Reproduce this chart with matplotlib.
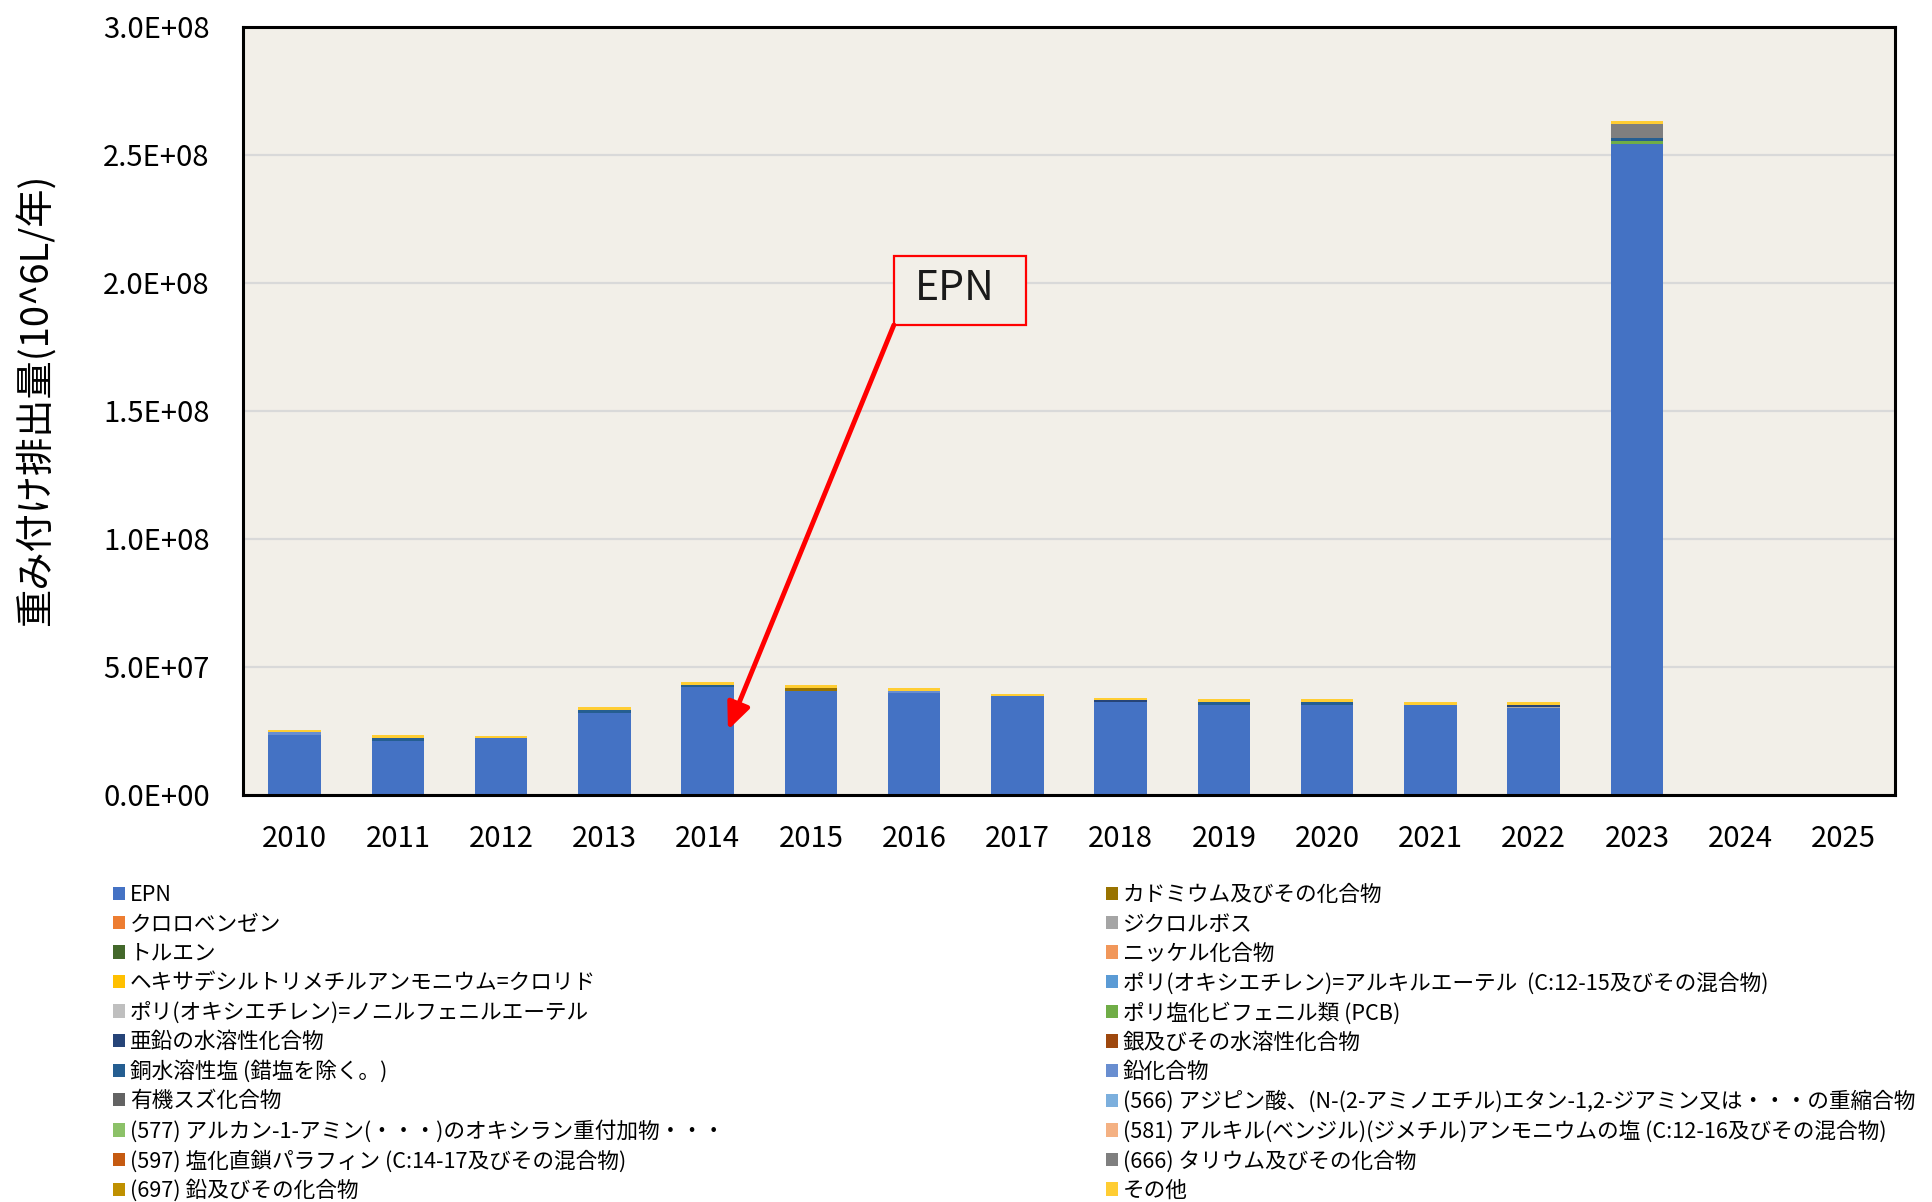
import matplotlib
matplotlib.use('Agg')
import matplotlib.pyplot as plt
import numpy as np
from matplotlib.patches import Rectangle, Patch
from matplotlib.ticker import FuncFormatter

plt.rcParams['font.family'] = ['Noto Sans CJK JP', 'DejaVu Sans']

# ---------------- data (units: 10^6, i.e. value * 1e6) ----------------
years = ['2010', '2011', '2012', '2013', '2014', '2015', '2016', '2017',
         '2018', '2019', '2020', '2021', '2022', '2023', '2024', '2025']

epn          = [23.3, 21.2, 22.1, 31.9, 42.1, 40.7, 39.7, 38.5, 36.4, 35.2, 35.2, 35.2, 34.1, 254.4, 0, 0]
cadmium      = [0, 0, 0, 0, 0, 1.05, 0, 0, 0, 0, 0, 0, 0, 0, 0, 0]
chlorobenz   = [0] * 16
dichlorvos   = [0, 0, 0, 0, 0, 0, 0, 0, 0, 0, 0, 0, 0.4, 0, 0, 0]
toluene      = [0] * 16
nickel       = [0] * 16
hexadecyl    = [0] * 16
poe_alkyl    = [0] * 16
poe_nonyl    = [0] * 16
pcb          = [0, 0, 0, 0, 0, 0, 0, 0, 0, 0, 0, 0, 0, 1.17, 0, 0]
zinc         = [0, 0, 0, 0, 0, 0, 0, 0, 0.9, 0, 0, 0, 0.8, 0, 0, 0]
silver       = [0] * 16
copper       = [0, 1.17, 0, 1.29, 1.0, 0, 0, 0, 0, 1.17, 1.17, 0, 0, 1.17, 0, 0]
lead_comp    = [1.29, 0, 0, 0, 0, 0, 1.0, 0, 0, 0, 0, 0, 0, 0, 0, 0]
organotin    = [0] * 16
s566         = [0] * 16
s577         = [0] * 16
s581         = [0] * 16
s597         = [0] * 16
s666         = [0, 0, 0, 0, 0, 0, 0, 0, 0, 0, 0, 0, 0, 5.35, 0, 0]
s697         = [0] * 16
others       = [0.78, 1.05, 0.9, 1.05, 0.94, 1.17, 1.05, 1.05, 0.78, 1.17, 1.17, 1.17, 1.05, 1.05, 0, 0]

series_names = [
    'EPN',
    'カドミウム及びその化合物',
    'クロロベンゼン',
    'ジクロルボス',
    'トルエン',
    'ニッケル化合物',
    'ヘキサデシルトリメチルアンモニウム=クロリド',
    'ポリ(オキシエチレン)=アルキルエーテル  (C:12-15及びその混合物)',
    'ポリ(オキシエチレン)=ノニルフェニルエーテル',
    'ポリ塩化ビフェニル類 (PCB)',
    '亜鉛の水溶性化合物',
    '銀及びその水溶性化合物',
    '銅水溶性塩 (錯塩を除く。)',
    '鉛化合物',
    '有機スズ化合物',
    '(566) アジピン酸、(N-(2-アミノエチル)エタン-1,2-ジアミン又は・・・の重縮合物',
    '(577) アルカン-1-アミン(・・・)のオキシラン重付加物・・・',
    '(581) アルキル(ベンジル)(ジメチル)アンモニウムの塩 (C:12-16及びその混合物)',
    '(597) 塩化直鎖パラフィン (C:14-17及びその混合物)',
    '(666) タリウム及びその化合物',
    '(697) 鉛及びその化合物',
    'その他',
]
series_values = [epn, cadmium, chlorobenz, dichlorvos, toluene, nickel, hexadecyl,
                 poe_alkyl, poe_nonyl, pcb, zinc, silver, copper, lead_comp, organotin,
                 s566, s577, s581, s597, s666, s697, others]
series_colors = ['#4472C4', '#997300', '#ED7D31', '#A5A5A5', '#43682B', '#F1975A',
                 '#FFC000', '#5B9BD5', '#BFBFBF', '#70AD47', '#264478', '#9E480E',
                 '#255E91', '#698ED0', '#636363', '#7CAFDD', '#8CC168', '#F4B183',
                 '#C55A11', '#7F7F7F', '#BF9000', '#FFCD33']

ylabel = '重み付け排出量(10^6L/年)'
bg = '#F2EFE8'

# ---------------- figure ----------------
W, H = 1932, 1202
fig = plt.figure(figsize=(W / 100, H / 100), dpi=100)
ax_l, ax_r, ax_t, ax_b = 243, 1895, 27, 795
ax = fig.add_axes([ax_l / W, 1 - ax_b / H, (ax_r - ax_l) / W, (ax_b - ax_t) / H])
ax.set_facecolor(bg)

x = np.arange(len(years))
bottom = np.zeros(len(years))
handles = []
for name, color, vals in zip(series_names, series_colors, series_values):
    v = np.array(vals, dtype=float) * 1e6
    ax.bar(x, v, 0.51, bottom=bottom, color=color, zorder=3, linewidth=0)
    bottom += v
    handles.append(Patch(facecolor=color, edgecolor='none', label=name))

ax.set_xlim(-0.5, len(years) - 0.5)
ax.set_ylim(0, 3e8)
ax.set_yticks(np.arange(0, 3.01e8, 5e7))
ax.yaxis.set_major_formatter(FuncFormatter(lambda v, p: f'{v:.1E}'))
ax.set_xticks(x)
ax.set_xticklabels(years)
ax.yaxis.grid(True, color='#D9D9D9', linewidth=1.6, zorder=0)
ax.set_axisbelow(True)
for s in ax.spines.values():
    s.set_linewidth(2.2)
    s.set_color('black')
    s.set_zorder(6)
ax.tick_params(axis='y', length=0, labelsize=21, pad=24)
ax.tick_params(axis='x', length=0, labelsize=21, pad=21)

fig.text(37 / W, 1 - 400 / H, ylabel, rotation=90, ha='center', va='center', fontsize=27.5)

# annotation box + arrow
ax.add_patch(Rectangle((0.394, 0.612), 0.080, 0.090, transform=ax.transAxes,
                       facecolor=bg, edgecolor='red', linewidth=1.6, zorder=7))
ax.text(0.431, 0.660, 'EPN', transform=ax.transAxes, ha='center', va='center',
        fontsize=29.5, color='#1a1a1a', zorder=8)
ax.annotate('', xy=(4.197, 2.54e7), xycoords='data',
            xytext=(0.394, 0.612), textcoords='axes fraction',
            arrowprops=dict(arrowstyle='-|>,head_length=0.8,head_width=0.35',
                            color='red', lw=3.5, shrinkA=0, shrinkB=0,
                            mutation_scale=20), zorder=7)

# legends: two columns
leg_kw = dict(loc='upper left', frameon=False, fontsize=15.6, handlelength=0.57,
              handleheight=0.57, handletextpad=0.2, labelspacing=0.34,
              borderpad=0, borderaxespad=0)
left_h = handles[0::2]
right_h = handles[1::2]
fig.legend(handles=left_h, bbox_to_anchor=(113 / W, 1 - 884 / H), **leg_kw)
fig.legend(handles=right_h, bbox_to_anchor=(1106 / W, 1 - 884 / H), **leg_kw)

fig.savefig('out.png', dpi=100, facecolor='white')
